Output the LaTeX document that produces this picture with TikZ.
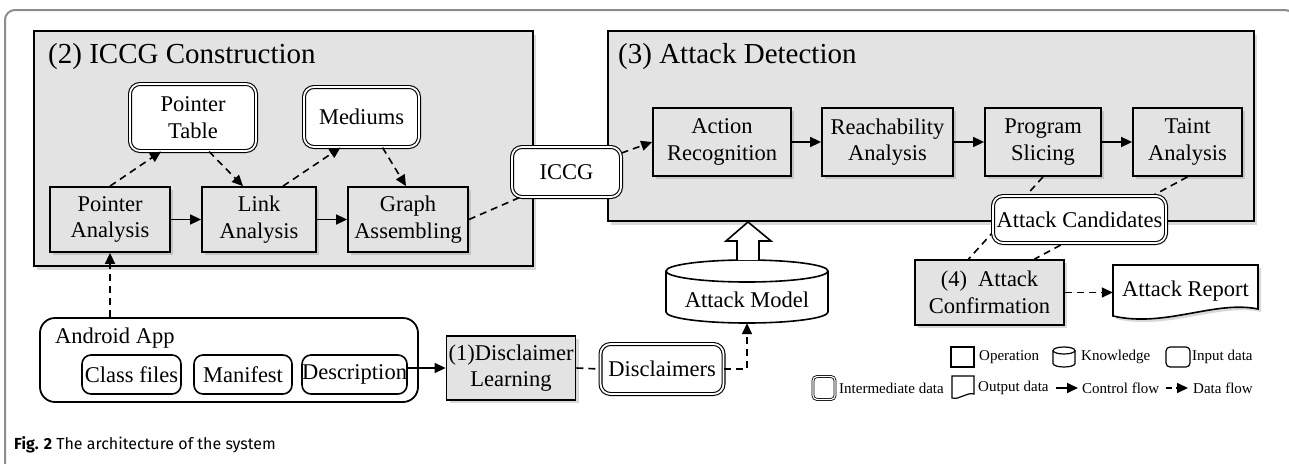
\documentclass[tikz,border=0pt]{standalone}
\usepackage{fontspec}
\setmainfont{Liberation Serif}
\newfontfamily\capfont{Fira Sans}
\usetikzlibrary{arrows.meta,shadows}
\definecolor{boxgray}{HTML}{E3E3E3}
\definecolor{framegray}{HTML}{8C8C8C}

\begin{document}
\begin{tikzpicture}[x=1pt, y=-1pt,
  lbl/.style={font=\fontsize{22.5}{26.5}\selectfont, align=center, inner sep=0pt},
  opbox/.style={lbl, draw, line width=1.8pt, fill=boxgray,
    drop shadow={opacity=0.3, shadow xshift=3pt, shadow yshift=-3pt}},
  midbox/.style={lbl, draw, line width=1.1pt, double, double distance=1.8pt,
    fill=white, rounded corners=10pt},
  inbox/.style={lbl, draw, line width=1.6pt, fill=white, rounded corners=9pt},
  bigbox/.style={draw, line width=2pt, fill=boxgray,
    drop shadow={opacity=0.3, shadow xshift=3pt, shadow yshift=-4pt}},
  titletext/.style={font=\fontsize{29}{33}\selectfont, anchor=west, inner sep=0pt},
  legtext/.style={font=\fontsize{15}{17}\selectfont, anchor=west, inner sep=0pt},
  legsym/.style={draw, line width=1.2pt, inner sep=0pt},
  ctrl/.style={line width=1.6pt, -{Triangle[length=11pt, width=10pt]}},
  data/.style={ctrl, dash pattern=on 7pt off 5pt},
  dataline/.style={line width=1.6pt, dash pattern=on 7pt off 5pt},
]
  \useasboundingbox (0,0) rectangle (1289,463);
  \draw[framegray, line width=2pt, rounded corners=10pt] (5,480) -- (5,10) -- (1295,10) -- (1295,480);

  % (2) ICCG construction
  \node[bigbox, minimum width=499, minimum height=235] (cbox) at (283.5,148.5) {};
  \node[titletext] (ctitle) at (48,57) {(2) ICCG Construction};
  % (3) attack detection
  \node[bigbox, minimum width=646, minimum height=190] (dbox) at (931,126) {};
  \node[titletext] (dtitle) at (618,57) {(3) Attack Detection};

  \node[midbox, minimum width=126, minimum height=67] (ptable) at (193,117.5) {Pointer\\Table};
  \node[midbox, minimum width=115, minimum height=60] (medium) at (361.5,117) {Mediums};
  \node[opbox, minimum width=120, minimum height=65] (panaly) at (110,219.5) {Pointer\\Analysis};
  \node[opbox, minimum width=114, minimum height=65] (lanaly) at (259,219.5) {Link\\Analysis};
  \node[opbox, minimum width=120, minimum height=65] (gassem) at (408,219.5) {Graph\\Assembling};
  \node[midbox, minimum width=109, minimum height=50] (iccg) at (566.5,172) {ICCG};

  \draw[data] (panaly.north) -- ([xshift=-32pt]ptable.south);
  \draw[data] ([xshift=16pt]ptable.south) -- ([xshift=-16pt]lanaly.north);
  \draw[data] ([xshift=24pt]lanaly.north) -- ([xshift=-21pt]medium.south);
  \draw[data] ([xshift=21pt]medium.south) -- ([xshift=-2pt]gassem.north);
  \draw[ctrl] (panaly) -- (lanaly);
  \draw[ctrl] (lanaly) -- (gassem);
  \draw[dataline] (gassem.east) -- ([xshift=8pt]iccg.south west);

  \node[opbox, minimum width=138, minimum height=68] (arecog) at (722,142) {Action\\Recognition};
  \node[opbox, minimum width=131, minimum height=68] (reach) at (887.5,142) {Reachability\\Analysis};
  \node[opbox, minimum width=116, minimum height=68] (slice) at (1043,142) {Program\\Slicing};
  \node[opbox, minimum width=109, minimum height=68] (taint) at (1187.5,142) {Taint\\Analysis};
  \draw[data] ([yshift=19pt]iccg.east) -- (arecog.west);
  \draw[ctrl] (arecog) -- (reach);
  \draw[ctrl] (reach) -- (slice);
  \draw[ctrl] (slice) -- (taint);

  % (4) attack confirmation
  \node[opbox, minimum width=149, minimum height=65] (confirm) at (989.5,292.5) {(4)~ Attack\\Confirmation};
  \draw[dataline] (slice.south) -- ([xshift=-21pt]confirm.north);
  \draw[dataline] (taint.south) -- ([xshift=45pt]confirm.north);
  \node[midbox, minimum width=173, minimum height=47] (cand) at (1079.5,219.5) {Attack Candidates};

  \draw[line width=1.6pt, fill=white, drop shadow={opacity=0.3, shadow xshift=3pt, shadow yshift=-3pt}]
    (1113,265) -- (1258,265) -- (1258,309) .. controls (1215,300) and (1165,328) .. (1113,316) -- cycle;
  \node[lbl, minimum width=145, minimum height=53] (report) at (1185.5,291.5) {Attack Report};
  \draw[data] (confirm.east) -- (confirm.east -| report.west);

  % attack model
  \draw[line width=1.6pt, fill=white] (666,271) -- (666,312)
    arc[start angle=180, end angle=0, x radius=81, y radius=11] -- (828,271);
  \draw[line width=1.6pt, fill=white] (747,271) ellipse[x radius=81, y radius=11];
  \node[lbl, minimum width=162, minimum height=46] (model) at (747,300) {Attack Model};
  \draw[line width=1.6pt, fill=white, line join=miter]
    (737,260) -- (737,241) -- (726,241) -- (748,222) -- (771,241) -- (759,241) -- (759,260);

  % android app
  \node[inbox, line width=1.8pt, rounded corners=15pt, minimum width=378, minimum height=84] (app) at (229,360) {};
  \node[lbl, anchor=west] (apptitle) at (55,338) {Android App};
  \node[inbox, minimum width=99, minimum height=39] (classf) at (131.5,374.5) {Class files};
  \node[inbox, minimum width=98, minimum height=39] (manif) at (243,374.5) {Manifest};
  \node[inbox, minimum width=97, minimum height=39] (descr) at (354.5,374.5) {Description};
  \draw[data] (panaly.south |- app.north) -- (panaly.south);

  \node[opbox, minimum width=129, minimum height=64] (dlearn) at (511,368) {(1)Disclaimer\\Learning};
  \node[midbox, minimum width=123, minimum height=50] (disclaim) at (662,369) {Disclaimers};
  \draw[ctrl] (dlearn.west -| descr.east) -- (dlearn.west);
  \draw[dataline] (dlearn.east) -- (disclaim.west);
  \draw[data] (disclaim.east) -| (model.south);

  % legend
  \node[legsym, minimum width=23, minimum height=20] (lgop) at (962.5,357) {};
  \node[legtext] (lgoptext) at (979,357) {Operation};
  \draw[line width=1.2pt, fill=white] (1053,350.5) -- (1053,363.5)
    arc[start angle=180, end angle=0, x radius=11, y radius=3.5] -- (1075,350.5);
  \draw[line width=1.2pt] (1064,350.5) ellipse[x radius=11, y radius=3.5];
  \node[legtext] (lgkntext) at (1081,357) {Knowledge};
  \node[legsym, rounded corners=4pt, minimum width=24, minimum height=20] (lgin) at (1178,357) {};
  \node[legtext] (lgintext) at (1192,357) {Input data};

  \node[legsym, line width=0.8pt, double, double distance=1.2pt, rounded corners=4pt,
    minimum width=22, minimum height=23] (lgmid) at (824,388) {};
  \node[legtext] (lgmidtext) at (839,388) {Intermediate data};
  \draw[line width=1.2pt] (952,376) -- (974,376) -- (974,394) .. controls (966,392) and (960,400) .. (952,398) -- cycle;
  \node[legtext] (lgouttext) at (978,388) {Output data};
  \coordinate (lgc1) at (1056,388);
  \coordinate (lgc2) at (1078,388);
  \draw[ctrl] (lgc1) -- (lgc2);
  \node[legtext] (lgctext) at (1082,388) {Control flow};
  \coordinate (lgd1) at (1166,388);
  \coordinate (lgd2) at (1188,388);
  \draw[data, dash pattern=on 6pt off 4pt] (lgd1) -- (lgd2);
  \node[legtext] (lgdtext) at (1193,388) {Data flow};

  \node[anchor=base west, inner sep=0pt, font=\capfont\fontsize{16}{18}\selectfont] (caption) at (14,449)
    {\textbf{Fig. 2} The architecture of the system};
\end{tikzpicture}
\end{document}
